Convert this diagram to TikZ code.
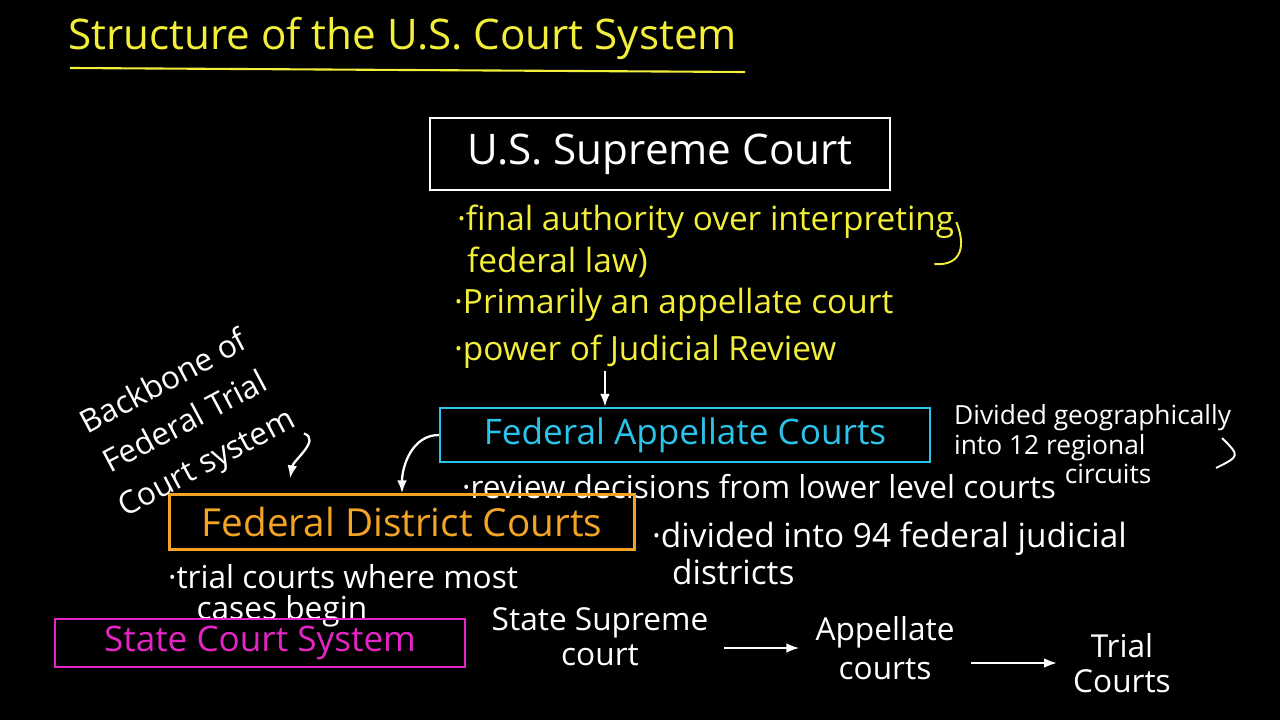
\documentclass[tikz,border=0pt]{standalone}
\usepackage{fontspec}
\setmainfont{Open Sans}
\usetikzlibrary{arrows.meta,positioning}
\definecolor{chalkyellow}{HTML}{F2EE3A}
\definecolor{chalkcyan}{HTML}{2CC3EA}
\definecolor{chalkorange}{HTML}{F4A424}
\definecolor{chalkpink}{HTML}{E424C4}

\begin{document}
\begin{tikzpicture}[x=0.02cm, y=-0.02cm,
  courtbox/.style={draw, line width=1.3pt, inner sep=0pt},
  note/.style={text=white, font=\fontsize{16}{18}\selectfont, align=left, inner sep=1pt},
  hint/.style={text=chalkyellow, font=\fontsize{19}{21}\selectfont, anchor=west, inner sep=1pt},
  arrow/.style={-{Latex[length=2.6mm]}, line width=1.3pt, draw=white}
]
\fill[black] (0,0) rectangle (1280,720);
\useasboundingbox (0,0) rectangle (1280,720);

% title
\node[text=chalkyellow, font=\fontsize{24}{27}\selectfont, anchor=west] (title) at (62,38) {Structure of the U.S. Court System};
\draw[chalkyellow, line width=1.2pt] (70,68) -- (745,72);

% supreme court
\node[courtbox, draw=white, text=white, minimum width=9.2cm, minimum height=1.44cm,
  font=\fontsize{24}{28}\selectfont] (supreme) at (660,154) {U.S. Supreme Court};
\node[hint] (authority) at (455,222) {·final authority over interpreting};
\node[hint] (fedlaw) at (465,262) {federal law)};
\node[hint] (primarily) at (452,305) {·Primarily an appellate court};
\node[hint] (review) at (452,352) {·power of Judicial Review};
\draw[chalkyellow, line width=1.1pt] (authority.east) .. controls +(12,30) and +(22,2) .. +(-22,42);

% federal courts
\node[courtbox, draw=chalkcyan, text=chalkcyan, minimum width=9.8cm, minimum height=1.08cm,
  font=\fontsize{20}{23}\selectfont] (appellate) at (685,435) {Federal Appellate Courts};
\node[note, anchor=north west, font=\fontsize{15}{17}\selectfont] (circuits) at (952,402)
  {Divided geographically\\into 12 regional\\\hspace*{4.2em}circuits};
\draw[white, line width=1.1pt] (1222,438) .. controls (1240,456) .. (1216,468);
\node[note, anchor=west, font=\fontsize{18}{20}\selectfont] (lowercourts) at (460,487) {·review decisions from lower level courts};

\node[courtbox, draw=chalkorange, text=chalkorange, minimum width=9.3cm, minimum height=1.1cm,
  font=\fontsize{22}{25}\selectfont] (district) at (402,522) {Federal District Courts};
\node[note, anchor=north west, font=\fontsize{19}{21}\selectfont] (districts) at (650,520)
  {·divided into 94 federal judicial\\\hspace*{0.6em}districts};
\node[note, anchor=north west, font=\fontsize{18}{18}\selectfont] (trialnote) at (166,562)
  {·trial courts where most\\\hspace*{0.9em}cases begin};

\node[note, rotate=28, align=center, font=\fontsize{18}{26}\selectfont] (backbone) at (186,424)
  {Backbone of\\Federal Trial\\Court system};

\draw[arrow] ([xshift=3.06cm]review.south west) -- ([xshift=3.06cm]review.south west |- appellate.north);
\draw[arrow] (appellate.west) to[out=180, in=90] (district.north);
\draw[arrow] (backbone.south east) to[out=-20, in=80] ([xshift=-2.24cm, yshift=0.3cm]district.north);

% state courts
\node[courtbox, draw=chalkpink, text=chalkpink, minimum width=8.2cm, minimum height=0.96cm,
  font=\fontsize{20}{23}\selectfont] (statesys) at (260,643) {State Court System};
\node[note, align=center, font=\fontsize{18}{20}\selectfont] (statesup) at (600,637) {State Supreme\\court};
\node[note, align=center, font=\fontsize{18}{22}\selectfont] (stapp) at (885,648) {Appellate\\courts};
\node[note, align=center, font=\fontsize{18}{20}\selectfont] (sttrial) at (1122,663) {Trial\\Courts};
\draw[arrow, shorten <=8pt, shorten >=8pt] (stapp.west -| statesup.east) -- (stapp.west);
\draw[arrow, shorten <=8pt, shorten >=8pt] (sttrial.west -| stapp.east) -- (sttrial.west);
\end{tikzpicture}
\end{document}
